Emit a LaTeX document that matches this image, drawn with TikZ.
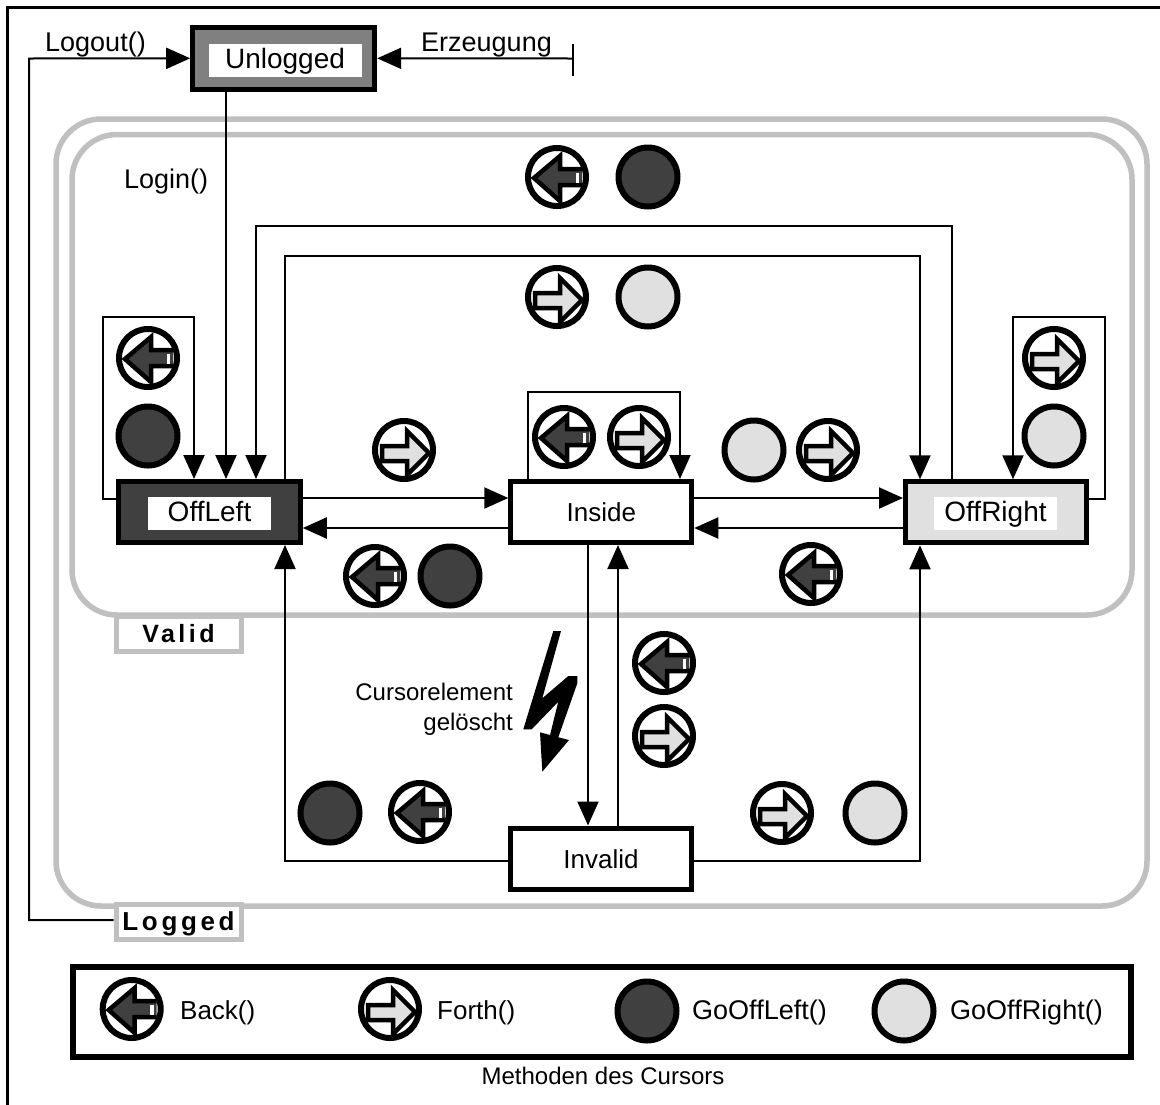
\documentclass[tikz,border=0pt]{standalone}
\usepackage{fontspec}
\setmainfont{Liberation Sans}
\newfontfamily\spaced[LetterSpace=14]{Liberation Sans}
\usetikzlibrary{arrows.meta}
\definecolor{darkf}{HTML}{404040}
\definecolor{lightf}{HTML}{E0E0E0}
\definecolor{grayb}{HTML}{C0C0C0}
\definecolor{midf}{HTML}{808080}
\newcommand{\fsz}[1]{\fontsize{#1}{#1}\selectfont}
\tikzset{
  conn/.style={line width=2pt,-{Triangle[length=24pt,width=21pt]}},
  plain/.style={line width=2pt},
  statebox/.style={draw=black,line width=5pt,fill=white,minimum width=181pt,minimum height=61pt,inner sep=0pt,text height=19pt,text depth=0pt,font=\fsz{26}},
  inlay/.style={fill=white,inner sep=0pt,minimum height=33pt,text height=20pt,text depth=4pt,font=\fsz{28}},
  region/.style={draw=grayb,line width=5.5pt,rounded corners=45pt},
  tagbox/.style={draw=grayb,line width=5pt,fill=white,minimum width=125pt,minimum height=35pt,inner sep=0pt,text height=18pt,text depth=2pt},
  lbl/.style={inner sep=0pt,font=\fsz{27}},
  discD/.style={circle,draw=black,line width=6pt,fill=darkf,minimum size=59pt,inner sep=0pt},
  discL/.style={circle,draw=black,line width=6pt,fill=lightf,minimum size=59pt,inner sep=0pt},
  ring/.style={circle,draw=black,line width=6pt,fill=white,minimum size=58pt,inner sep=0pt},
  backicon/.pic={
    \node[ring] (-c) at (0,0) {};
    \fill[darkf,draw=black,line width=4.5pt,miter limit=3] (25,-8) -- (3,-8) -- (3,-21) -- (-23,1) -- (3,24) -- (3,8) -- (25,8);
    \fill[white] (18.5,-4) rectangle (22,6);
  },
  forthicon/.pic={
    \node[ring] (-c) at (0,0) {};
    \fill[lightf,draw=black,line width=4.5pt,miter limit=3] (-22,-4) -- (3,-4) -- (3,-19) -- (25,3) -- (3,25) -- (3,11) -- (-22,11) -- cycle;
  },
}
\begin{document}
\begin{tikzpicture}[x=1pt,y=-1pt]
\useasboundingbox (0,0) rectangle (1160,1104);
\fill[white] (0,0) rectangle (1160,1104);
\draw[line width=2.5pt] (7.5,1110) -- (7.5,7.5) -- (1170,7.5);
% regions
\draw[region] (56,119) rectangle (1147,906);
\draw[region] (72,134.5) rectangle (1132,615);
\node[tagbox,font=\bfseries\spaced\fsz{25}] (valid) at (178.5,634) {Valid};
\node[tagbox,font=\bfseries\spaced\fsz{26}] (logged) at (178.5,922) {Logged};
% states
\node[statebox,fill=midf,minimum width=182pt,minimum height=62pt] (unlogged) at (283.7,58.3) {};
\node[inlay,minimum width=153pt] (unloggedt) at (285,60.5) {Unlogged};
\node[statebox,fill=darkf,minimum width=182pt] (offleft) at (209.3,512) {};
\node[inlay,minimum width=123pt] (offleftt) at (209.5,513.5) {OffLeft};
\node[statebox] (inside) at (601.3,512) {Inside};
\node[statebox,fill=lightf] (offright) at (996,512.3) {};
\node[inlay,minimum width=123pt] (offrightt) at (995.5,513.5) {OffRight};
\node[statebox] (invalid) at (601,858.5) {Invalid};
% free ends
\coordinate (born) at (573,58.5);
\coordinate (bornA) at (573,44);
\coordinate (bornB) at (573,76);
% connectors
\draw[conn] (logged.west |- 0,920) -- (29,920) -- (29,58.5) -- (unlogged.west);
\draw[conn] (born) -- (unlogged.east);
\draw[plain] (bornA) -- (bornB);
\draw[conn] (unlogged.south -| 226,0) -- (offleft.north -| 226,0);
\draw[conn] (offright.north -| 952,0) -- (952,226) -- (256,226) -- (offleft.north -| 256,0);
\draw[conn] (offleft.north -| 285,0) -- (285,256) -- (920,256) -- (offright.north -| 920,0);
\draw[conn] (offleft.west |- 0,499) -- (103,499) -- (103,317) -- (194,317) -- (offleft.north -| 194,0);
\draw[conn] (offright.east |- 0,499) -- (1104.5,499) -- (1104.5,317) -- (1013,317) -- (offright.north -| 1013,0);
\draw[conn] (inside.north -| 528,0) -- (528,391.5) -- (680,391.5) -- (inside.north -| 680,0);
\draw[conn] (offleft.east |- 0,498) -- (inside.west |- 0,498);
\draw[conn] (inside.west |- 0,528) -- (offleft.east |- 0,528);
\draw[conn] (inside.east |- 0,498) -- (offright.west |- 0,498);
\draw[conn] (offright.west |- 0,528) -- (inside.east |- 0,528);
\draw[conn] (inside.south -| 588,0) -- (invalid.north -| 588,0);
\draw[conn] (invalid.north -| 618,0) -- (inside.south -| 618,0);
\draw[conn] (invalid.west |- 0,861) -- (285,861) -- (offleft.south -| 285,0);
\draw[conn] (invalid.east |- 0,861) -- (920,861) -- (offright.south -| 920,0);
% labels
\node[lbl,anchor=base west] (tlogout) at (45,51.7) {Logout()};
\node[lbl,anchor=base west] (terz) at (421,51.7) {Erzeugung};
\node[lbl,anchor=base west] (tlogin) at (124,188) {Login()};
\node[lbl,align=right,anchor=east,font=\fsz{24},execute at begin node=\setlength{\baselineskip}{30pt}] (tcursor) at (513,709) {Cursorelement\\gelöscht};
% bolt
\fill[black] (553.3,631) -- (561,631) -- (542.3,698.3) -- (568.3,676) -- (577.3,676) -- (577.3,683.3) -- (558.3,737.3) -- (569,740) -- (542.3,771.7) -- (540,732.3) -- (550,735) -- (558.3,701.7) -- (531.7,729.3) -- (523.3,729.3) -- cycle;
% icons
\pic at (557,177) {backicon};
\node[discD] (d1) at (648,177) {};
\pic at (557,297) {forthicon};
\node[discL] (l1) at (648,297) {};
\pic at (148,358) {backicon};
\node[discD] (d2) at (148,436) {};
\pic at (404,450) {forthicon};
\pic at (564,437) {backicon};
\pic at (639,437) {forthicon};
\node[discL] (l2) at (754,450) {};
\pic at (828,450) {forthicon};
\pic at (375,576) {backicon};
\node[discD] (d3) at (450,576) {};
\pic at (811,574) {backicon};
\pic at (1054,358) {forthicon};
\node[discL] (l3) at (1054,436) {};
\pic at (664,663) {backicon};
\pic at (664,736) {forthicon};
\node[discD] (d4) at (330,813) {};
\pic at (420,812) {backicon};
\pic at (782,813) {forthicon};
\node[discL] (l4) at (875,813) {};
% legend
\node[draw=black,line width=6pt,minimum width=1058pt,minimum height=90pt,inner sep=0pt] (legend) at (602,1012) {};
\pic at (131.7,1009) {backicon};
\pic at (390,1009) {forthicon};
\node[discD] (d5) at (647,1011) {};
\node[discL] (l5) at (904,1011) {};
\node[lbl,anchor=base west,font=\fsz{26}] (tback) at (180,1019.5) {Back()};
\node[lbl,anchor=base west,font=\fsz{26}] (tforth) at (437,1019.5) {Forth()};
\node[lbl,anchor=base west] (tgl) at (692,1019.5) {GoOffLeft()};
\node[lbl,anchor=base west] (tgr) at (950,1019.5) {GoOffRight()};
\node[lbl,anchor=base,font=\fsz{24}] (tmeth) at (603,1084) {Methoden des Cursors};
\end{tikzpicture}
\end{document}
